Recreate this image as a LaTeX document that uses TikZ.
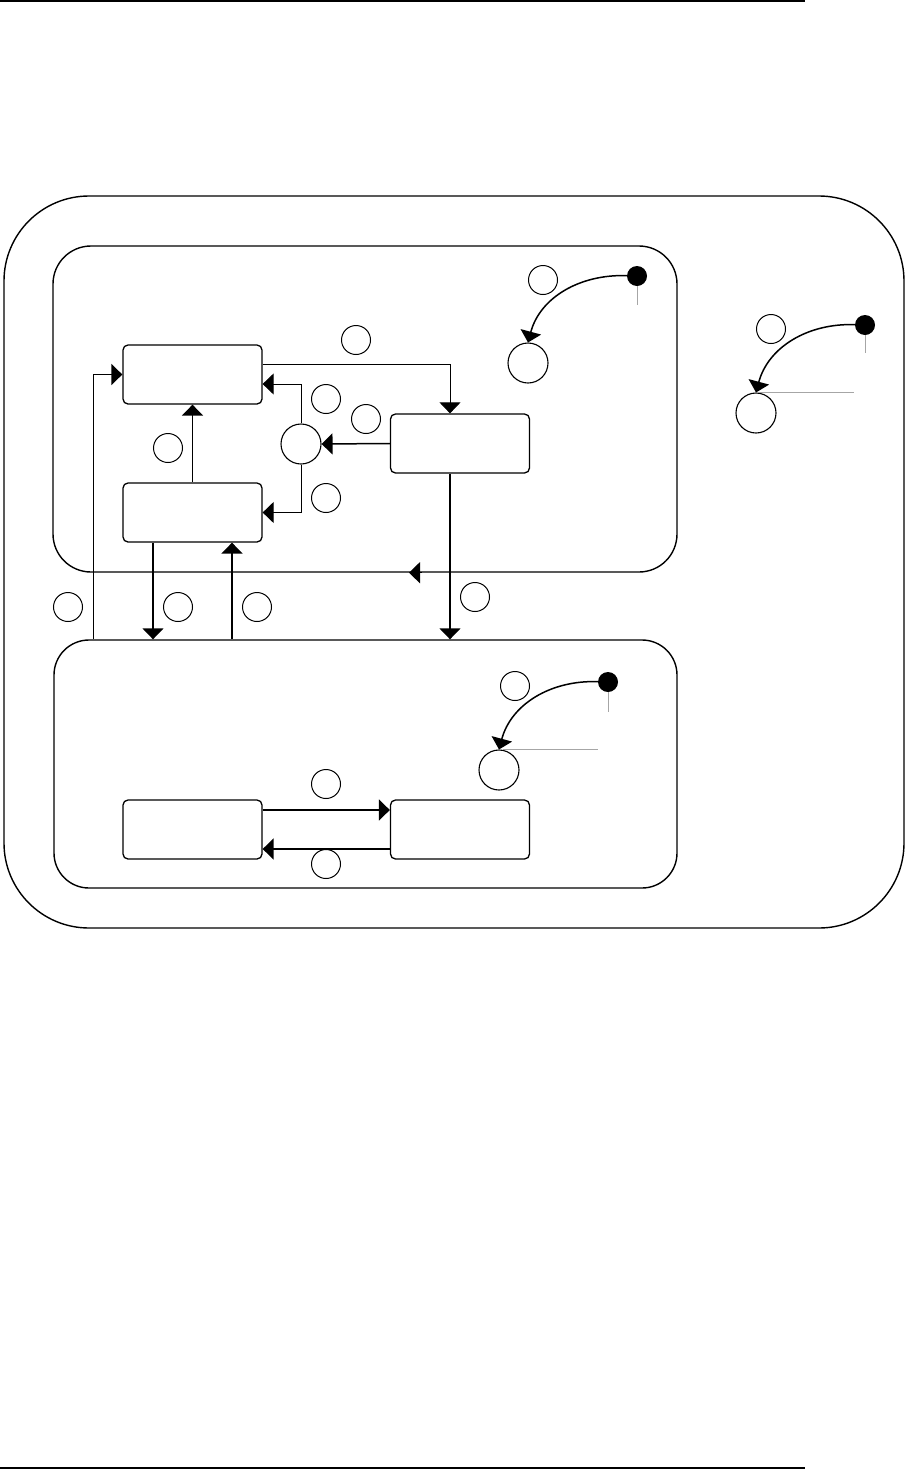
\documentclass[tikz,border=0pt]{standalone}
\usepackage{tikz}
\usetikzlibrary{arrows.meta, positioning, calc}

\begin{document}
\begin{tikzpicture}[x=1pt, y=-1pt,
    region/.style={draw, line width=1.4pt, inner sep=0pt},
    st/.style={draw, rounded corners=5pt, minimum width=139pt, minimum height=59pt, line width=1.3pt, inner sep=0pt},
    lbl/.style={circle, draw, minimum size=29pt, inner sep=0pt, line width=1pt},
    pt/.style={circle, draw, minimum size=40pt, inner sep=0pt, line width=1.1pt},
    ini/.style={circle, fill=black, minimum size=20pt, inner sep=0pt},
    thk/.style={line width=1.5pt, -{Triangle[width=21pt, length=11pt]}},
    thn/.style={line width=0.9pt, -{Triangle[width=21pt, length=11pt]}},
    gry/.style={black!35, line width=0.8pt}]
    \useasboundingbox (0,0) rectangle (906,1470);
    % page rules
    \draw[line width=2pt] (0,1) -- (805,1);
    \draw[line width=2pt] (0,1468) -- (805,1468);
    % regions
    \node[region, rounded corners=85pt, minimum width=900pt, minimum height=732pt] (outer) at (454,562) {};
    \node[region, rounded corners=38pt, minimum width=624pt, minimum height=326pt] (rA) at (365,409) {};
    \node[region, rounded corners=35pt, minimum width=623pt, minimum height=248pt] (rB) at (365.5,764) {};
    % states
    \node[st] (s1) at (192.5,374.5) {};
    \node[st] (s2) at (192.5,512.5) {};
    \node[st] (s3) at (460,443.5) {};
    \node[st] (s4) at (192.5,829.5) {};
    \node[st] (s5) at (460,829.5) {};
    \node[pt] (h) at (301,444) {};
    \node[pt] (c1) at (528,363) {};
    \node[pt] (c2) at (756,413) {};
    \node[pt] (c3) at (499,770) {};
    \node[ini] (i1) at (637,276) {};
    \node[ini] (i2) at (865,325) {};
    \node[ini] (i3) at (608,682) {};
    % transition labels
    \node[lbl] (l1) at (356,340) {};
    \node[lbl] (l2) at (326,399) {};
    \node[lbl] (l3) at (366,419) {};
    \node[lbl] (l4) at (168,448) {};
    \node[lbl] (l5) at (326,498) {};
    \node[lbl] (l6) at (543,280) {};
    \node[lbl] (l7) at (771,329) {};
    \node[lbl] (l8) at (68,607) {};
    \node[lbl] (l9) at (178,607) {};
    \node[lbl] (l10) at (257,607) {};
    \node[lbl] (l11) at (475,597) {};
    \node[lbl] (l12) at (515,686) {};
    \node[lbl] (l13) at (326,784) {};
    \node[lbl] (l14) at (326,864) {};
    % transitions
    \draw[thn] ([yshift=10.5pt]s1.east) -| ([xshift=-10pt]s3.north);
    \draw[thk] (s3.west) -- (h.east);
    \draw[thn] (h.north) |- ([yshift=-9.5pt]s1.east);
    \draw[thn] (h.south) |- (s2.east);
    \draw[thk] (s2.north) -- (s1.south);
    \coordinate (d1) at ([xshift=-39.5pt]s2.south);
    \coordinate (u1) at ([xshift=39.5pt]s2.south);
    \coordinate (d2) at ([xshift=-10pt]s3.south);
    \coordinate (e1) at ([xshift=40pt]rB.north west);
    \coordinate (a1) at ([xshift=57pt]rA.south);
    \draw[thk] (d1) -- (d1 |- rB.north);
    \draw[thk] (u1 |- rB.north) -- (u1);
    \draw[thk] (d2) -- (d2 |- rB.north);
    \draw[thk] (e1) |- (s1.west);
    \draw[thk] (a1) -- ([xshift=44pt]rA.south);
    \draw[thk] ([yshift=19.5pt]s4.east) -- ([yshift=19.5pt]s5.west);
    \draw[thk] ([yshift=-19.5pt]s5.west) -- ([yshift=-19.5pt]s4.east);
    % initial transitions
    \draw[thk] (i1) to[out=178, in=75] (c1.north);
    \draw[thk] (i2) to[out=178, in=75] (c2.north);
    \draw[thk] (i3) to[out=178, in=75] (c3.north);
    \draw[gry] (i1.south) -- ++(0,19);
    \draw[gry] (i2.south) -- ++(0,18);
    \draw[gry] (i3.south) -- ++(0,20);
    \draw[gry] ([xshift=2pt]c2.north) -- ++(96,0);
    \draw[gry] ([xshift=4pt]c3.north) -- ++(95,0);
\end{tikzpicture}
\end{document}
